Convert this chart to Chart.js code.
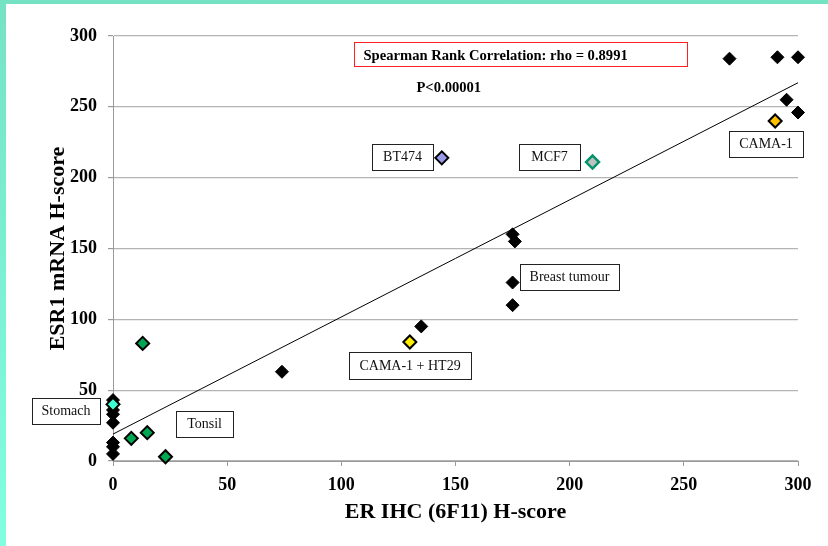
<!DOCTYPE html>
<html>
<head>
<meta charset="utf-8">
<script src="https://cdn.jsdelivr.net/npm/chart.js@4"></script>
<style>
  html, body { margin: 0; padding: 0; width: 828px; height: 546px; overflow: hidden;
    background: linear-gradient(to bottom, #76e2c4, #82fee0); }
  #wrap { position: absolute; left: 6px; top: 4px; width: 822px; height: 542px; background: #ffffff; }
  canvas { display: block; }
</style>
</head>
<body>
<div id="wrap"><canvas id="c" width="822" height="542"></canvas></div>
<script>
// ---- data ----
const tumourX  = [270, 291, 300, 295, 300, 175, 176, 175, 175, 135, 74, 0, 0, 0, 0, 0, 0, 0];
const tumourY  = [284, 285, 285, 255, 246, 160, 155, 126, 110, 95, 63, 43, 36, 33, 27, 13, 10, 5];
const tonsilX  = [13, 8, 15, 23];
const tonsilY  = [83, 16, 20, 3];
const stomachX = [0];
const stomachY = [40];
const bt474X   = [144];
const bt474Y   = [214];
const mcf7X    = [210];
const mcf7Y    = [211];
const cama1X   = [290];
const cama1Y   = [240];
const camaHtX  = [130];
const camaHtY  = [84];
const trendX   = [0, 300];
const trendY   = [19, 267];
const xTickValues = [0, 50, 100, 150, 200, 250, 300];
const yTickValues = [0, 50, 100, 150, 200, 250, 300];
const xTitle = 'ER IHC (6F11) H-score';
const yTitle = 'ESR1 mRNA H-score';
const statsText = 'Spearman Rank Correlation: rho = 0.8991';
const pText = 'P<0.00001';
const labelTexts = ['BT474', 'MCF7', 'CAMA-1', 'Breast tumour', 'CAMA-1 + HT29', 'Stomach', 'Tonsil'];

const pts = (xs, ys) => xs.map((x, i) => ({x: x, y: ys[i]}));

// label placement (data-space centre + box size in px)
const labelPlacement = [
  {cx: 126.8, cy: 214.8, w: 61, h: 26},
  {cx: 191.2, cy: 214.8, w: 61, h: 26},
  {cx: 286.0, cy: 224.0, w: 74, h: 26},
  {cx: 199.9, cy: 130.1, w: 99, h: 26},
  {cx: 130.1, cy: 67.6,  w: 122, h: 27},
  {cx: -20.6, cy: 35.5,  w: 68, h: 26},
  {cx: 40.1,  cy: 26.3,  w: 57, h: 26}
];
const statsPlacement = {cx: 178.5, cy: 287.5, w: 333, h: 24};
const pPlacement = {lx: 132.9, cy: 264};

const SERIF = '"Liberation Serif", "Times New Roman", serif';

const annotPlugin = {
  id: 'annot',
  afterDraw(chart) {
    const ctx = chart.ctx, xs = chart.scales.x, ys = chart.scales.y;
    ctx.save();
    // stats box
    let cx = xs.getPixelForValue(statsPlacement.cx), cy = ys.getPixelForValue(statsPlacement.cy);
    let l = Math.round(cx - statsPlacement.w / 2) + 0.5, t = Math.round(cy - statsPlacement.h / 2) + 0.5;
    ctx.fillStyle = '#fff';
    ctx.fillRect(l, t, statsPlacement.w, statsPlacement.h);
    ctx.strokeStyle = '#ff2020'; ctx.lineWidth = 1;
    ctx.strokeRect(l, t, statsPlacement.w, statsPlacement.h);
    ctx.fillStyle = '#000';
    ctx.font = 'bold 14.6px ' + SERIF;
    ctx.textBaseline = 'middle'; ctx.textAlign = 'left';
    ctx.fillText(statsText, l + 9, cy + 2.5);
    // p value
    ctx.fillText(pText, xs.getPixelForValue(pPlacement.lx), ys.getPixelForValue(pPlacement.cy) + 1);
    // label boxes
    ctx.font = '14px ' + SERIF;
    ctx.textAlign = 'center';
    labelTexts.forEach((txt, i) => {
      const p = labelPlacement[i];
      const x = xs.getPixelForValue(p.cx), y = ys.getPixelForValue(p.cy);
      const bl = Math.round(x - p.w / 2) + 0.5, bt = Math.round(y - p.h / 2) + 0.5;
      ctx.fillStyle = '#fff';
      ctx.fillRect(bl, bt, p.w, p.h);
      ctx.strokeStyle = '#222'; ctx.lineWidth = 1;
      ctx.strokeRect(bl, bt, p.w, p.h);
      ctx.fillStyle = '#111';
      ctx.fillText(txt, x, y + 1);
    });
    ctx.restore();
  }
};

const diamond = (fill, border, bw) => ({
  pointStyle: 'rectRot', pointRadius: 6.5, pointHoverRadius: 6.5,
  backgroundColor: fill, borderColor: border, borderWidth: bw, clip: false
});

new Chart(document.getElementById('c'), {
  type: 'scatter',
  data: {
    datasets: [
      Object.assign({label: 'Breast tumour', data: pts(tumourX, tumourY), order: 1}, diamond('#000000', '#000000', 1)),
      Object.assign({label: 'Tonsil', data: pts(tonsilX, tonsilY), order: 1}, diamond('#00a651', '#000000', 2)),
      Object.assign({label: 'Stomach', data: pts(stomachX, stomachY), order: 0}, diamond('#3dffd2', '#000000', 2)),
      Object.assign({label: 'BT474', data: pts(bt474X, bt474Y), order: 1}, diamond('#9a9aea', '#000000', 2)),
      Object.assign({label: 'MCF7', data: pts(mcf7X, mcf7Y), order: 1}, diamond('#c0c0c0', '#00936c', 2.5)),
      Object.assign({label: 'CAMA-1', data: pts(cama1X, cama1Y), order: 1}, diamond('#ffc000', '#000000', 2)),
      Object.assign({label: 'CAMA-1 + HT29', data: pts(camaHtX, camaHtY), order: 1}, diamond('#ffee00', '#000000', 2)),
      {
        type: 'line', label: 'Trend', data: pts(trendX, trendY), order: 10,
        borderColor: '#000000', borderWidth: 1, pointRadius: 0, showLine: true, fill: false, clip: false
      }
    ]
  },
  options: {
    responsive: false,
    animation: false,
    devicePixelRatio: 1,
    layout: { padding: { top: 32, right: 30, left: 0, bottom: 0 } },
    plugins: { legend: { display: false }, tooltip: { enabled: false } },
    scales: {
      x: {
        type: 'linear', min: 0, max: 300,
        afterBuildTicks: (s) => { s.ticks = xTickValues.map(v => ({value: v})); },
        afterFit: (s) => { s.height = 85; },
        ticks: { color: '#000', padding: 9, font: { family: SERIF, size: 18, weight: 'bold' } },
        grid: { drawOnChartArea: false, drawTicks: true, tickLength: 5, tickColor: '#9a9a9a', color: '#9a9a9a' },
        border: { color: '#9a9a9a', width: 1 },
        title: { display: true, text: xTitle, color: '#000', padding: { top: 0, bottom: 20 },
                 font: { family: SERIF, size: 22, weight: 'bold', lineHeight: 1.2 } }
      },
      y: {
        type: 'linear', min: 0, max: 300,
        afterBuildTicks: (s) => { s.ticks = yTickValues.map(v => ({value: v})); },
        afterFit: (s) => { s.width = 107; },
        ticks: { color: '#000', padding: 11, font: { family: SERIF, size: 18, weight: 'bold' } },
        grid: { drawOnChartArea: true, drawTicks: true, tickLength: 5, color: '#b4b4b4', tickColor: '#9a9a9a', lineWidth: 1.2 },
        border: { color: '#9a9a9a', width: 1 },
        title: { display: true, text: yTitle, color: '#000', padding: { top: 39, bottom: 0 },
                 font: { family: SERIF, size: 22, weight: 'bold', lineHeight: 1.2 } }
      }
    }
  },
  plugins: [annotPlugin]
});
</script>
</body>
</html>
